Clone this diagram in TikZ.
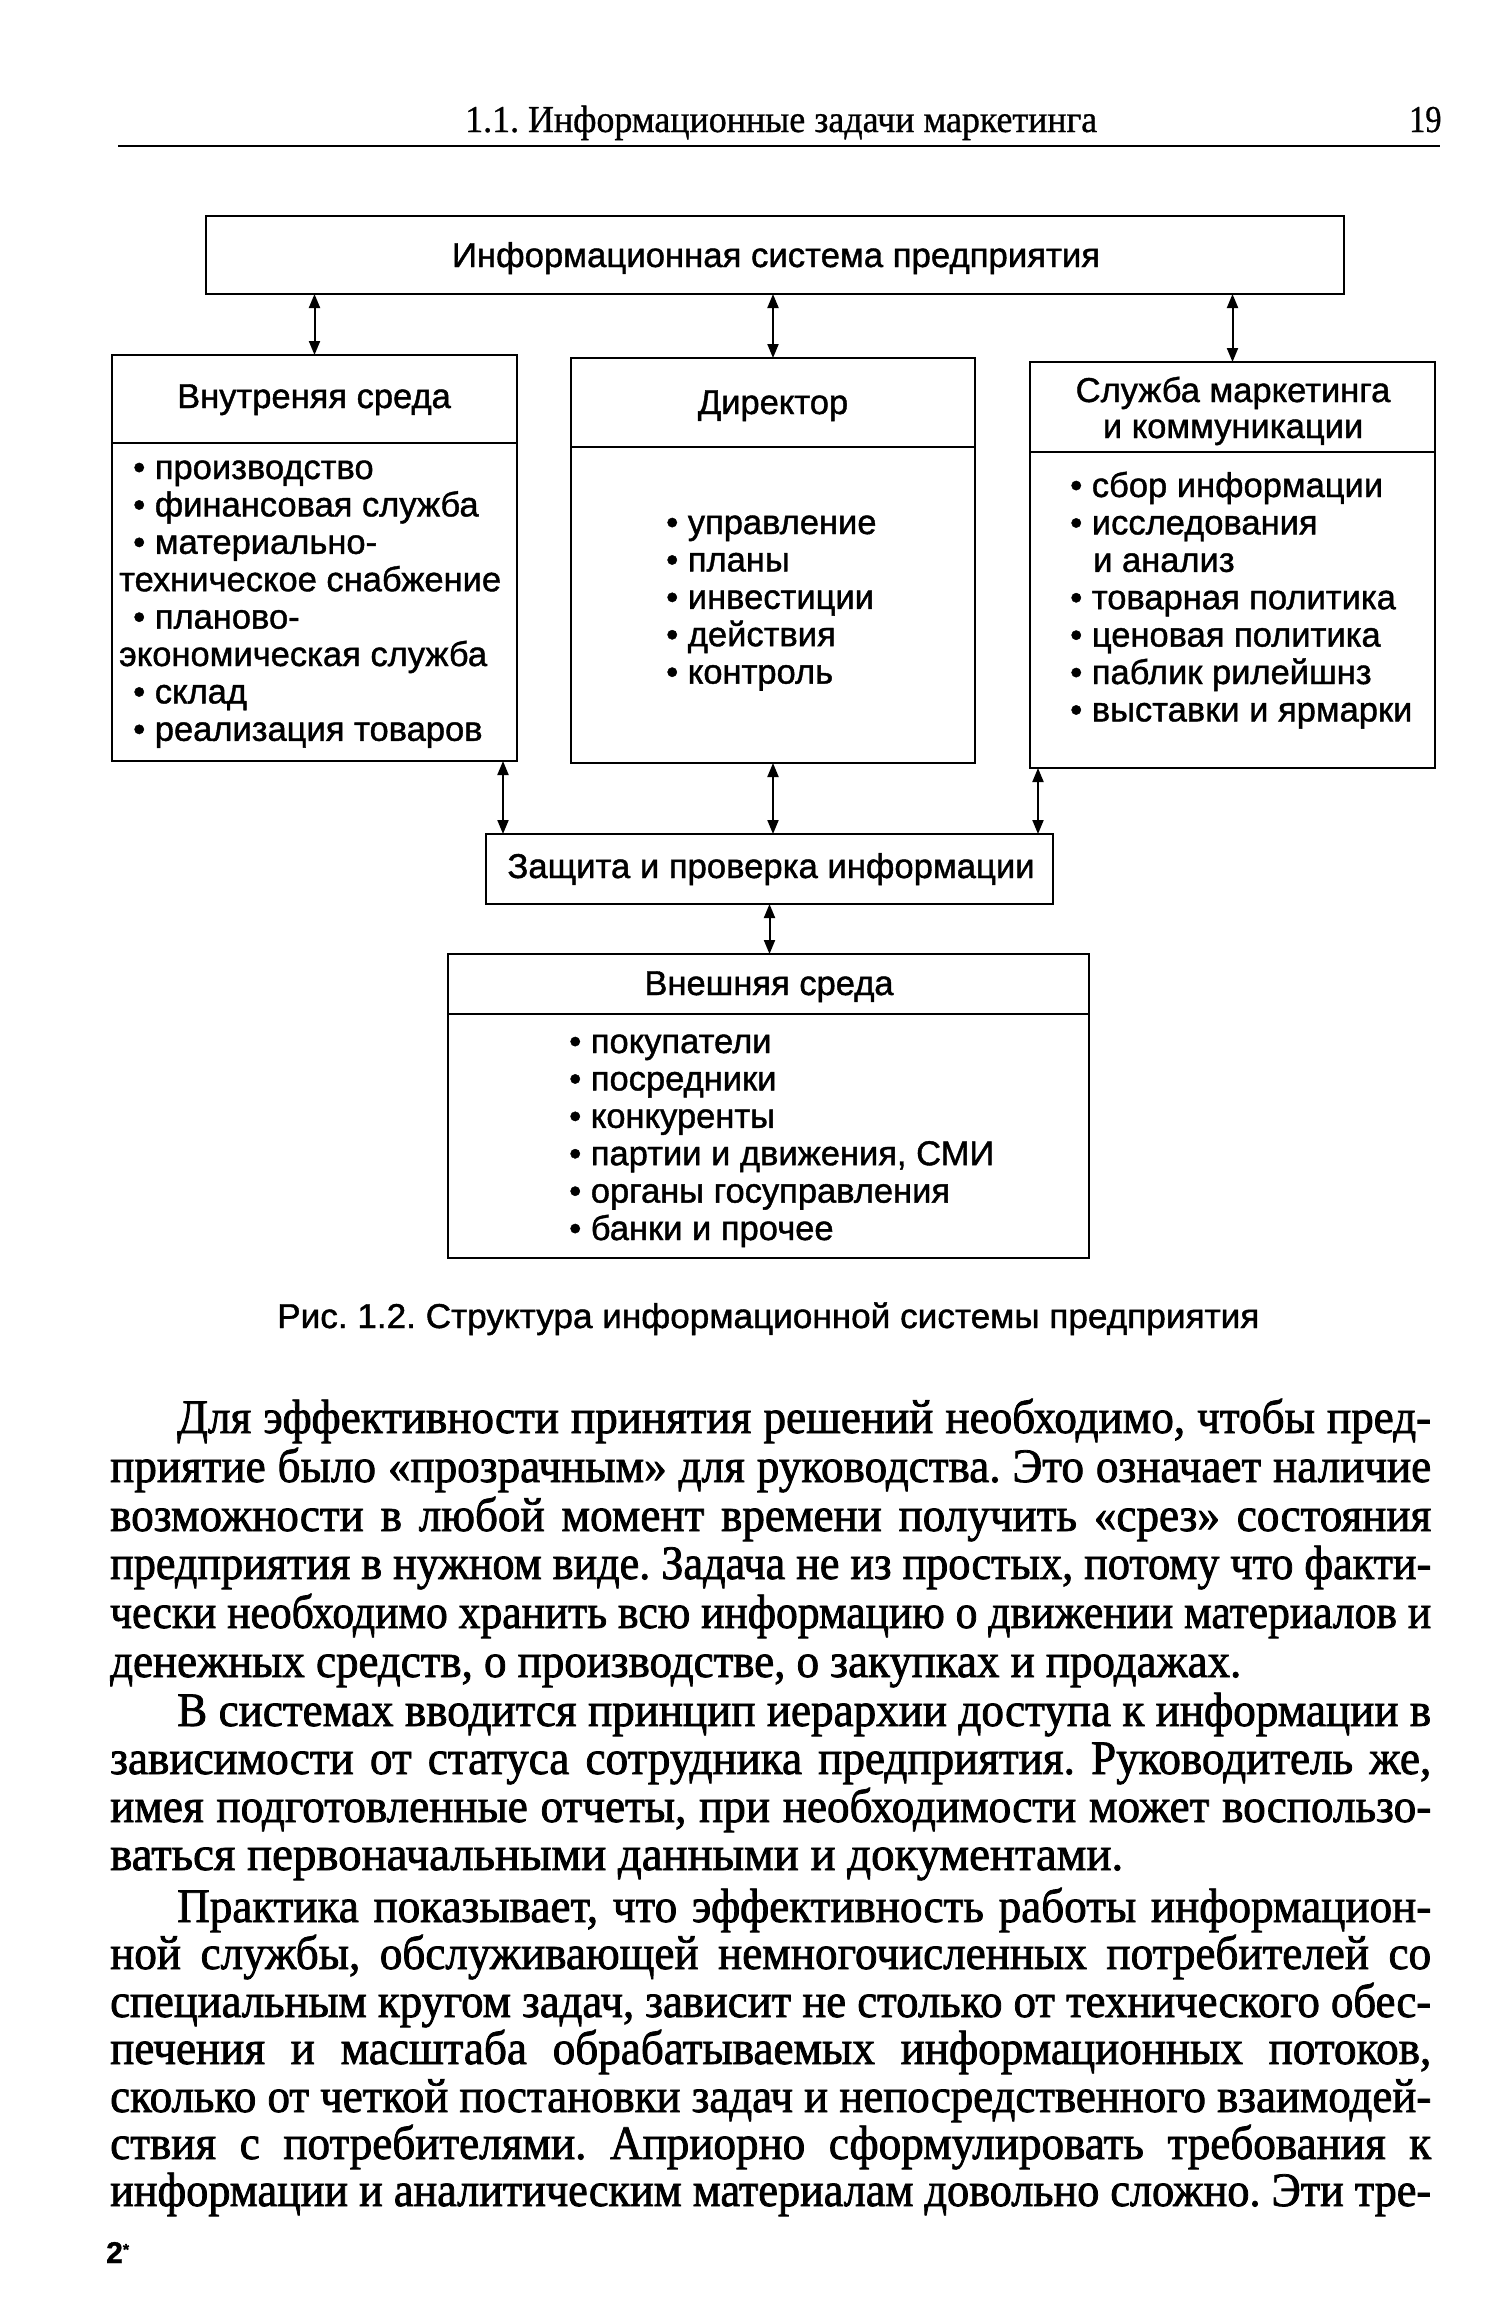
\documentclass[tikz,border=0pt]{standalone}
\usepackage{fontspec}
\usepackage{graphicx}
\setmainfont[FakeBold=1.2]{Liberation Sans}
\newfontfamily\serifbody[FakeBold=1.6,FakeStretch=0.94]{Liberation Serif}
\newfontfamily\hdrfont[FakeBold=0.8,FakeStretch=0.85]{Liberation Serif}
\newfontfamily\sansf[FakeBold=1.2]{Liberation Sans}
\usetikzlibrary{arrows.meta}
\frenchspacing
\newcommand\fitto[2]{\setbox0=\hbox{#2}\pgfmathsetmacro\fitfac{#1/\wd0}\scalebox{\fitfac}[1]{\box0}}
\newcommand\jline[2]{\setbox0=\hbox{#2}\ifdim\wd0>#1\relax\pgfmathsetmacro\fitfac{#1/\wd0}\scalebox{\fitfac}[1]{\box0}\else\hbox to #1{#2}\fi}
\newcommand\itemlist[2]{\parbox[t]{#1}{\raggedright\fontsize{34.5}{37.4}\selectfont #2}}
\begin{document}
\begin{tikzpicture}[x=1pt,y=-1pt,
  box/.style={draw, line width=2.8pt, inner sep=0pt, outer sep=0pt, anchor=north west},
  arr/.style={line width=2pt, {Triangle[length=14pt,width=11pt]}-{Triangle[length=14pt,width=11pt]}},
  ttl/.style={inner sep=0pt, anchor=base, font=\fontsize{34.5}{38}\selectfont, align=center},
  itm/.style={inner sep=0pt, anchor=base west},
  bline/.style={inner sep=0pt, anchor=base west, font=\serifbody\fontsize{48}{52}\selectfont},
  hdr/.style={inner sep=0pt, anchor=base west, font=\hdrfont\fontsize{38}{40}\selectfont}]
\fill[white] (0,0) rectangle (1509,2308);
\useasboundingbox (0,0) rectangle (1509,2308);

% running head
\node[hdr] (head) at (465,132) {\fitto{632pt}{1.1. Информационные задачи маркетинга}};
\node[hdr] (pnum) at (1409,132) {19};
\draw[line width=2.4pt] (118,146) -- (1440,146);

% boxes
\node[box, minimum width=1138pt, minimum height=78pt] (sys) at (206,216) {};
\node[box, minimum width=405pt, minimum height=406pt] (inner) at (112,355) {};
\node[box, minimum width=404pt, minimum height=405pt] (dir) at (571,358) {};
\node[box, minimum width=405pt, minimum height=406pt] (mkt) at (1030,362) {};
\node[box, minimum width=567pt, minimum height=70pt] (prot) at (486,834) {};
\node[box, minimum width=641pt, minimum height=304pt] (ext) at (448,954) {};

% dividers
\draw[line width=2.6pt] ([yshift=-88pt]inner.north west) -- ([yshift=-88pt]inner.north east);
\draw[line width=2.6pt] ([yshift=-89pt]dir.north west) -- ([yshift=-89pt]dir.north east);
\draw[line width=2.6pt] ([yshift=-90pt]mkt.north west) -- ([yshift=-90pt]mkt.north east);
\draw[line width=2.6pt] ([yshift=-60pt]ext.north west) -- ([yshift=-60pt]ext.north east);

% titles
\node[ttl] (sysT) at (776,267) {\fitto{648pt}{Информационная система предприятия}};
\node[ttl] (innerT) at (314,408) {Внутреняя среда};
\node[ttl] (dirT) at (773,414) {Директор};
\node[ttl] (mktT) at (1233,438) {Служба маркетинга\\[-2pt]и коммуникации};
\node[ttl] (protT) at (771,878) {\fitto{527pt}{Защита и проверка информации}};
\node[ttl] (extT) at (769,995) {Внешняя среда};

% item lists
\node[itm] (innerL) at (119,479) {\itemlist{395pt}{%
\hspace*{14pt}• производство\\
\hspace*{14pt}• финансовая служба\\
\hspace*{14pt}• материально-\\
техническое снабжение\\
\hspace*{14pt}• планово-\\
экономическая служба\\
\hspace*{14pt}• склад\\
\hspace*{14pt}• реализация товаров}};
\node[itm] (dirL) at (666,534) {\itemlist{300pt}{%
• управление\\
• планы\\
• инвестиции\\
• действия\\
• контроль}};
\node[itm] (mktL) at (1070,497) {\itemlist{360pt}{%
• сбор информации\\
• исследования\\
\hspace*{23pt}и анализ\\
• товарная политика\\
• ценовая политика\\
• паблик рилейшнз\\
• выставки и ярмарки}};
\node[itm] (extL) at (569,1053) {\itemlist{500pt}{%
• покупатели\\
• посредники\\
• конкуренты\\
• партии и движения, СМИ\\
• органы госуправления\\
• банки и прочее}};

% connector ends
\coordinate (protL) at ([xshift=17pt]prot.north west);
\coordinate (protR) at ([xshift=-15pt]prot.north east);

% connectors
\draw[arr] (sys.south -| inner.north) -- (inner.north);
\draw[arr] (sys.south -| dir.north) -- (dir.north);
\draw[arr] (sys.south -| mkt.north) -- (mkt.north);
\draw[arr] (inner.south -| protL) -- (protL);
\draw[arr] (dir.south) -- (prot.north -| dir.south);
\draw[arr] (mkt.south -| protR) -- (protR);
\draw[arr] (prot.south) -- (ext.north -| prot.south);

% caption
\node[inner sep=0pt, anchor=base west, font=\fontsize{34.5}{38}\selectfont] (cap) at (277,1328) {\fitto{982pt}{Рис. 1.2. Структура информационной системы предприятия}};

% body text
\node[bline] (p1a) at (177,1433) {\jline{1254pt}{Для эффективности принятия решений необходимо, чтобы пред-}};
\node[bline] (p1b) at (110,1482) {\jline{1321pt}{приятие было «прозрачным» для руководства. Это означает наличие}};
\node[bline] (p1c) at (110,1531) {\jline{1321pt}{возможности в любой момент времени получить «срез» состояния}};
\node[bline] (p1d) at (110,1579) {\jline{1321pt}{предприятия в нужном виде. Задача не из простых, потому что факти-}};
\node[bline] (p1e) at (110,1628) {\jline{1321pt}{чески необходимо хранить всю информацию о движении материалов и}};
\node[bline] (p1f) at (110,1677) {\fitto{1131pt}{денежных средств, о производстве, о закупках и продажах.}};

\node[bline] (p2a) at (177,1726) {\jline{1254pt}{В системах вводится принцип иерархии доступа к информации в}};
\node[bline] (p2b) at (110,1774) {\jline{1321pt}{зависимости от статуса сотрудника предприятия. Руководитель же,}};
\node[bline] (p2c) at (110,1822) {\jline{1321pt}{имея подготовленные отчеты, при необходимости может воспользо-}};
\node[bline] (p2d) at (110,1870) {\fitto{1013pt}{ваться первоначальными данными и документами.}};

\node[bline] (p3a) at (177,1922) {\jline{1254pt}{Практика показывает, что эффективность работы информацион-}};
\node[bline] (p3b) at (110,1969) {\jline{1321pt}{ной службы, обслуживающей немногочисленных потребителей со}};
\node[bline] (p3c) at (110,2017) {\jline{1321pt}{специальным кругом задач, зависит не столько от технического обес-}};
\node[bline] (p3d) at (110,2064) {\jline{1321pt}{печения и масштаба обрабатываемых информационных потоков,}};
\node[bline] (p3e) at (110,2112) {\jline{1321pt}{сколько от четкой постановки задач и непосредственного взаимодей-}};
\node[bline] (p3f) at (110,2159) {\jline{1321pt}{ствия с потребителями. Априорно сформулировать требования к}};
\node[bline] (p3g) at (110,2206) {\jline{1321pt}{информации и аналитическим материалам довольно сложно. Эти тре-}};

% signature mark
\node[inner sep=0pt, anchor=base west, font=\sansf\bfseries\fontsize{30}{32}\selectfont] (sig) at (106,2263) {2\raisebox{8pt}{\fontsize{16}{16}\selectfont *}};
\end{tikzpicture}
\end{document}
